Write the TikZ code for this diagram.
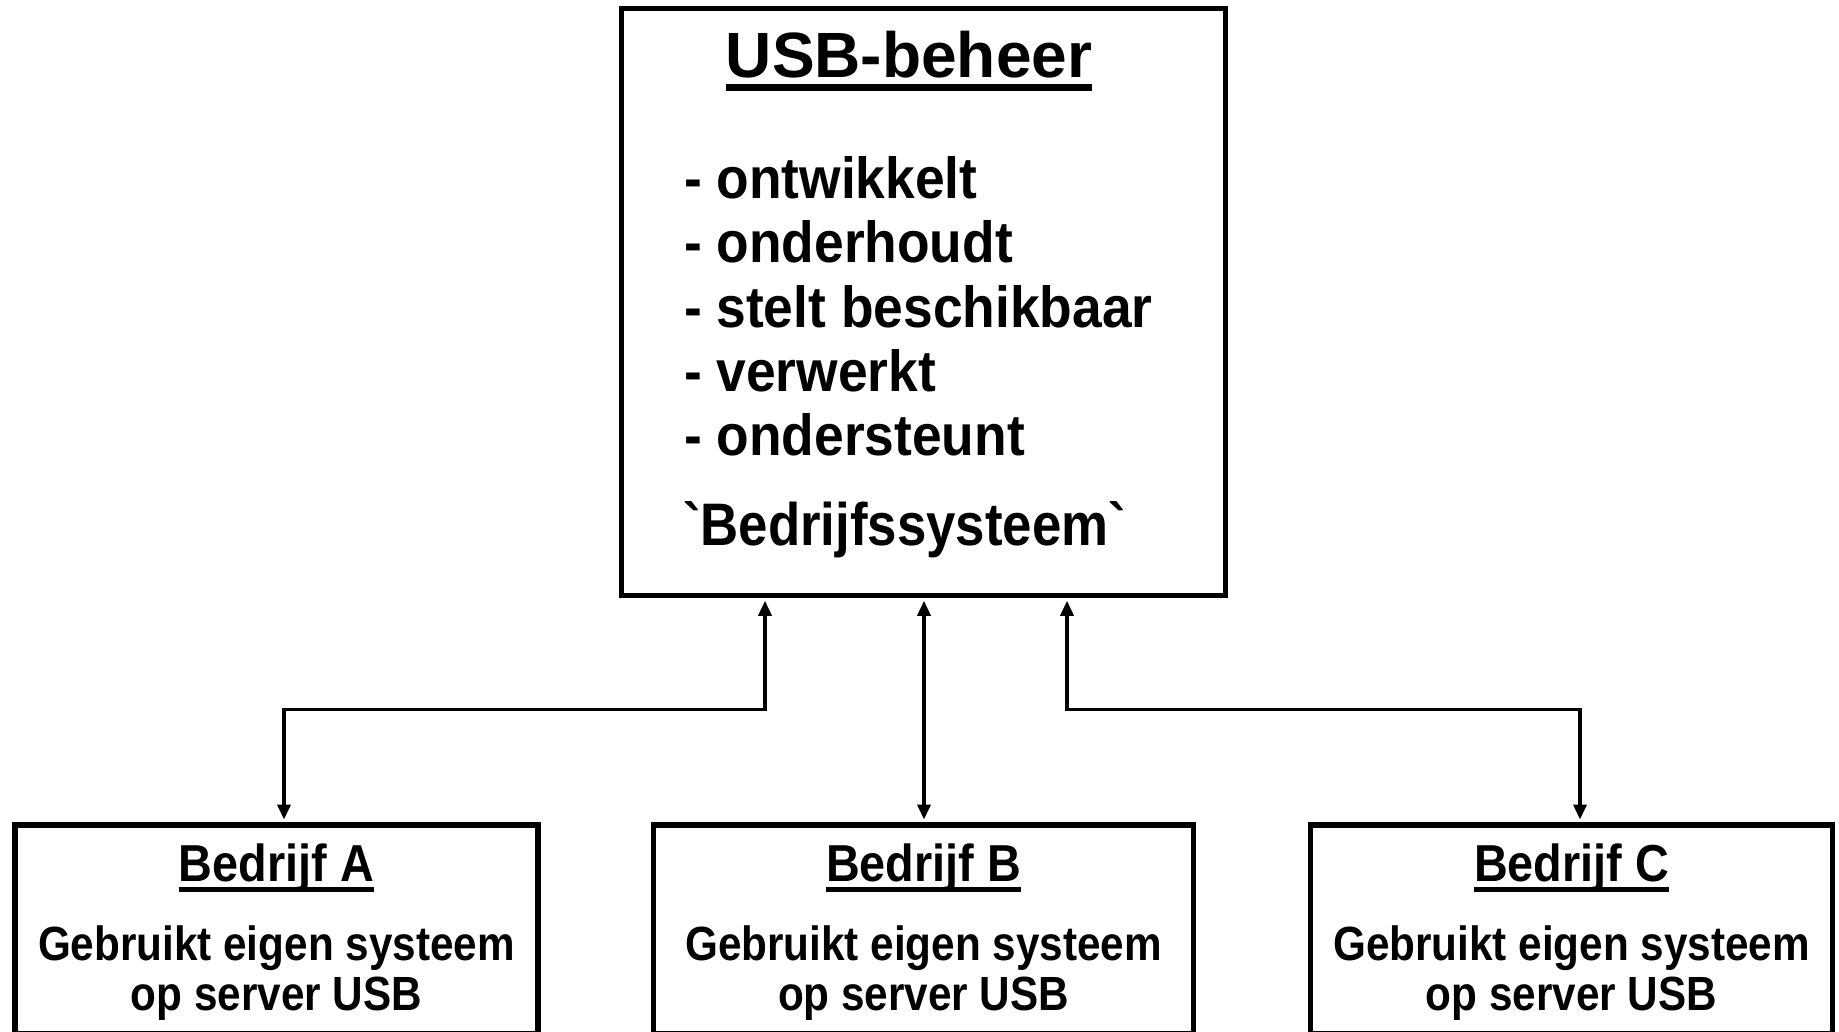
\documentclass[tikz,border=0pt]{standalone}
\usepackage{fontspec}
\setmainfont{Liberation Sans}
\newfontfamily\fTitle{Liberation Sans}
\newfontfamily\fList[FakeStretch=0.92]{Liberation Sans}
\newfontfamily\fSys[FakeStretch=0.88]{Liberation Sans}
\newfontfamily\fHead[FakeStretch=0.9]{Liberation Sans}
\newfontfamily\fBody[FakeStretch=0.88]{Liberation Sans}
\usetikzlibrary{arrows.meta}
\begin{document}
\begin{tikzpicture}[x=1pt,y=-1pt,
  box/.style={draw, line width=5.5pt, inner sep=0pt},
  conn/.style={line width=3.5pt, {Triangle[length=15pt,width=13pt]}-{Triangle[length=15pt,width=13pt]}, shorten <=2.5pt, shorten >=2.5pt},
  txt/.style={inner sep=0pt, outer sep=0pt},
  titlefont/.style={font=\fTitle\bfseries\fontsize{64}{70}\selectfont},
  listfont/.style={font=\fList\bfseries\fontsize{58}{64}\selectfont},
  sysfont/.style={font=\fSys\bfseries\fontsize{60}{64}\selectfont},
  headfont/.style={font=\fHead\bfseries\fontsize{52}{58}\selectfont},
  bodyfont/.style={font=\fBody\bfseries\fontsize{48}{52}\selectfont},
  uline/.style={line width=#1}]
\useasboundingbox (0,0) rectangle (1839,1032);
\fill[white] (0,0) rectangle (1839,1032);

% boxes
\node[box, minimum width=604pt, minimum height=587pt] (usb) at (923.5,302) {};
\node[box, minimum width=523.3pt, minimum height=209.2pt] (a) at (276.4,929.4) {};
\node[box, minimum width=540pt, minimum height=209.2pt] (b) at (923.6,929.4) {};
\node[box, minimum width=522.2pt, minimum height=209.2pt] (c) at (1571.5,929.4) {};

% top box text
\node[txt, titlefont, anchor=base] (title) at (909,78) {USB-beheer};
\draw[uline=7pt] ([yshift=-10pt]title.base west) -- ([yshift=-10pt]title.base east);
\node[txt, listfont, anchor=base west] (l1) at (684,199) {- ontwikkelt};
\node[txt, listfont, anchor=base west] (l2) at (684,263) {- onderhoudt};
\node[txt, listfont, anchor=base west] (l3) at (684,327) {- stelt beschikbaar};
\node[txt, listfont, anchor=base west] (l4) at (684,391) {- verwerkt};
\node[txt, listfont, anchor=base west] (l5) at (684,455) {- ondersteunt};
\node[txt, sysfont, anchor=base west] (sys) at (683,545) {`Bedrijfssysteem`};

% bottom box texts
\foreach \n/\cx/\l in {a/276.4/A, b/923.6/B, c/1571.5/C}{
  \node[txt, headfont, anchor=base] (h\n) at (\cx,881) {Bedrijf \l};
  \draw[uline=5pt] ([yshift=-8pt]h\n.base west) -- ([yshift=-8pt]h\n.base east);
  \node[txt, bodyfont, anchor=base] (p\n) at (\cx,960) {Gebruikt eigen systeem};
  \node[txt, bodyfont, anchor=base] (q\n) at (\cx,1010) {op server USB};
}

% connectors
\coordinate (ja) at (284,709.5);
\coordinate (ju) at (765,709.5);
\coordinate (jb) at (924,709.5);
\coordinate (jv) at (1067,709.5);
\coordinate (jc) at (1580,709.5);
\draw[conn] (usb.south -| ju) -- (ju) -- (ja) -- (a.north -| ja);
\draw[conn] (usb.south -| jb) -- (b.north -| jb);
\draw[conn] (usb.south -| jv) -- (jv) -- (jc) -- (c.north -| jc);
\end{tikzpicture}
\end{document}
